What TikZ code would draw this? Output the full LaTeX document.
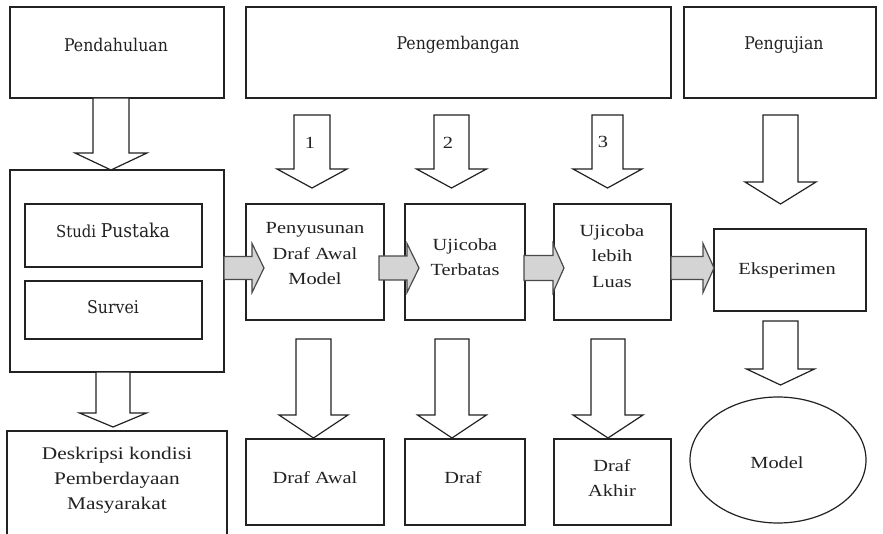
\documentclass[tikz,border=0pt]{standalone}
\usepackage{fontspec}
\setmainfont[FakeStretch=1.2]{Liberation Serif}
\newfontfamily\slabfont[FakeStretch=0.9]{DejaVu Serif}
\usetikzlibrary{calc}

\definecolor{linec}{HTML}{222222}
\definecolor{greyfill}{HTML}{D4D4D4}
\definecolor{greyline}{HTML}{4A4A4A}

\tikzset{
  box/.style={draw=linec, line width=1.2pt, rectangle, inner sep=0pt, outer sep=0pt, anchor=north west},
  serif/.style={font=\fontsize{17}{25.5}\selectfont, align=center, inner sep=0pt, text=linec},
  slab/.style={font=\slabfont\fontsize{17.5}{22}\selectfont, inner sep=0pt, text=linec},
  blockdown/.style={draw=linec, line width=1.2pt, fill=white, line join=miter},
  blockright/.style={draw=greyline, line width=1.2pt, fill=greyfill, line join=miter},
}

% hollow downward block arrow: centre x, shaft half width, head half width, top y, head y, tip y
\newcommand\downblock[6]{%
  \draw[blockdown] ({#1-#2},#4) -- ({#1-#2},#5) -- ({#1-#3},#5) -- (#1,#6)
    -- ({#1+#3},#5) -- ({#1+#2},#5) -- ({#1+#2},#4) -- cycle;}
% grey rightward block arrow: start x, head base x, tip x, centre y, shaft half, head half
\newcommand\rightblock[6]{%
  \draw[blockright] (#1,{#4-#5}) -- (#2,{#4-#5}) -- (#2,{#4-#6}) -- (#3,#4)
    -- (#2,{#4+#6}) -- (#2,{#4+#5}) -- (#1,{#4+#5}) -- cycle;}

\begin{document}
\begin{tikzpicture}[x=1pt,y=-1pt]
\clip (0,0) rectangle (883,534);
\fill[white] (0,0) rectangle (883,534);

% phase headers
\node[box, minimum width=214pt, minimum height=91pt] (pend) at (10,7) {};
\node[box, minimum width=425pt, minimum height=91pt] (dev)  at (246,7) {};
\node[box, minimum width=192pt, minimum height=91pt] (test) at (684,7) {};
\node[slab] (tpend) at (116,45) {Pendahuluan};
\node[slab] (tdev)  at (458,45) {Pengembangan};
\node[slab] (ttest) at (784,45) {Pengujian};

% preliminary study
\node[box, minimum width=214pt, minimum height=202pt] (prelim) at (10,170) {};
\node[box, minimum width=177pt, minimum height=63pt] (lit) at (25,204) {};
\node[box, minimum width=177pt, minimum height=58pt] (survey) at (25,281) {};
\node[inner sep=0pt, text=linec] (tlit) at (113,230)
  {\slabfont\fontsize{16.5}{18}\selectfont Studi \fontsize{19}{22}\selectfont Pustaka};
\node[slab] (tsurvey) at (113,307) {Survei};
\node[box, minimum width=220pt, minimum height=120pt] (desc) at (7,431) {};
\node[serif, font=\fontsize{17.8}{25}\selectfont] (tdesc) at (117,480)
  {Deskripsi kondisi\\Pemberdayaan\\Masyarakat};

% development steps
\node[box, minimum width=138pt, minimum height=116pt] (draft) at (246,204) {};
\node[box, minimum width=120pt, minimum height=116pt] (trialA) at (405,204) {};
\node[box, minimum width=117pt, minimum height=116pt] (trialB) at (554,204) {};
\node[box, minimum width=152pt, minimum height=82pt] (exp) at (714,229) {};
\node[serif] (tdraft)  at (315,254) {Penyusunan\\Draf Awal\\Model};
\node[serif] (ttrialA) at (465,257) {Ujicoba\\Terbatas};
\node[serif] (ttrialB) at (612,256) {Ujicoba\\lebih\\Luas};
\node[serif] (texp)    at (787,270) {Eksperimen};

% products
\node[box, minimum width=138pt, minimum height=86pt] (outA) at (246,439) {};
\node[box, minimum width=120pt, minimum height=86pt] (outB) at (405,439) {};
\node[box, minimum width=117pt, minimum height=86pt] (outC) at (554,439) {};
\draw[line width=1.2pt, draw=linec] (778,460) ellipse [x radius=88, y radius=63];
\node[serif] (toutA) at (315,478) {Draf Awal};
\node[serif] (toutB) at (463,478) {Draf};
\node[serif] (toutC) at (612,478) {Draf\\Akhir};
\node[serif] (tmodel) at (777,463) {Model};

% hollow arrows
\downblock{111}{18}{36}{98}{153}{170}
\downblock{113}{17}{33.5}{372}{413}{427}
\downblock{312}{18}{35}{115}{169}{188}
\downblock{451.5}{17.5}{35}{115}{169}{188}
\downblock{607.5}{15.5}{34.5}{115}{169}{188}
\downblock{780.5}{17.5}{35.5}{115}{182}{204}
\downblock{313.5}{17.5}{34.5}{339}{415}{438}
\downblock{452}{17}{34.5}{339}{415}{438}
\downblock{608}{17}{35}{339}{415}{438}
\downblock{780.5}{17.5}{34}{321}{369}{385}
\node[serif] (n1) at (310,143) {1};
\node[serif] (n2) at (448,143) {2};
\node[serif] (n3) at (603,142) {3};

% grey flow arrows
\rightblock{224}{252}{264}{268}{11.5}{24.5}
\rightblock{379}{407}{419}{268}{12}{24.5}
\rightblock{524}{553}{564}{268}{12.5}{24.5}
\rightblock{671}{703}{714}{268}{11.5}{24.5}
\end{tikzpicture}
\end{document}
